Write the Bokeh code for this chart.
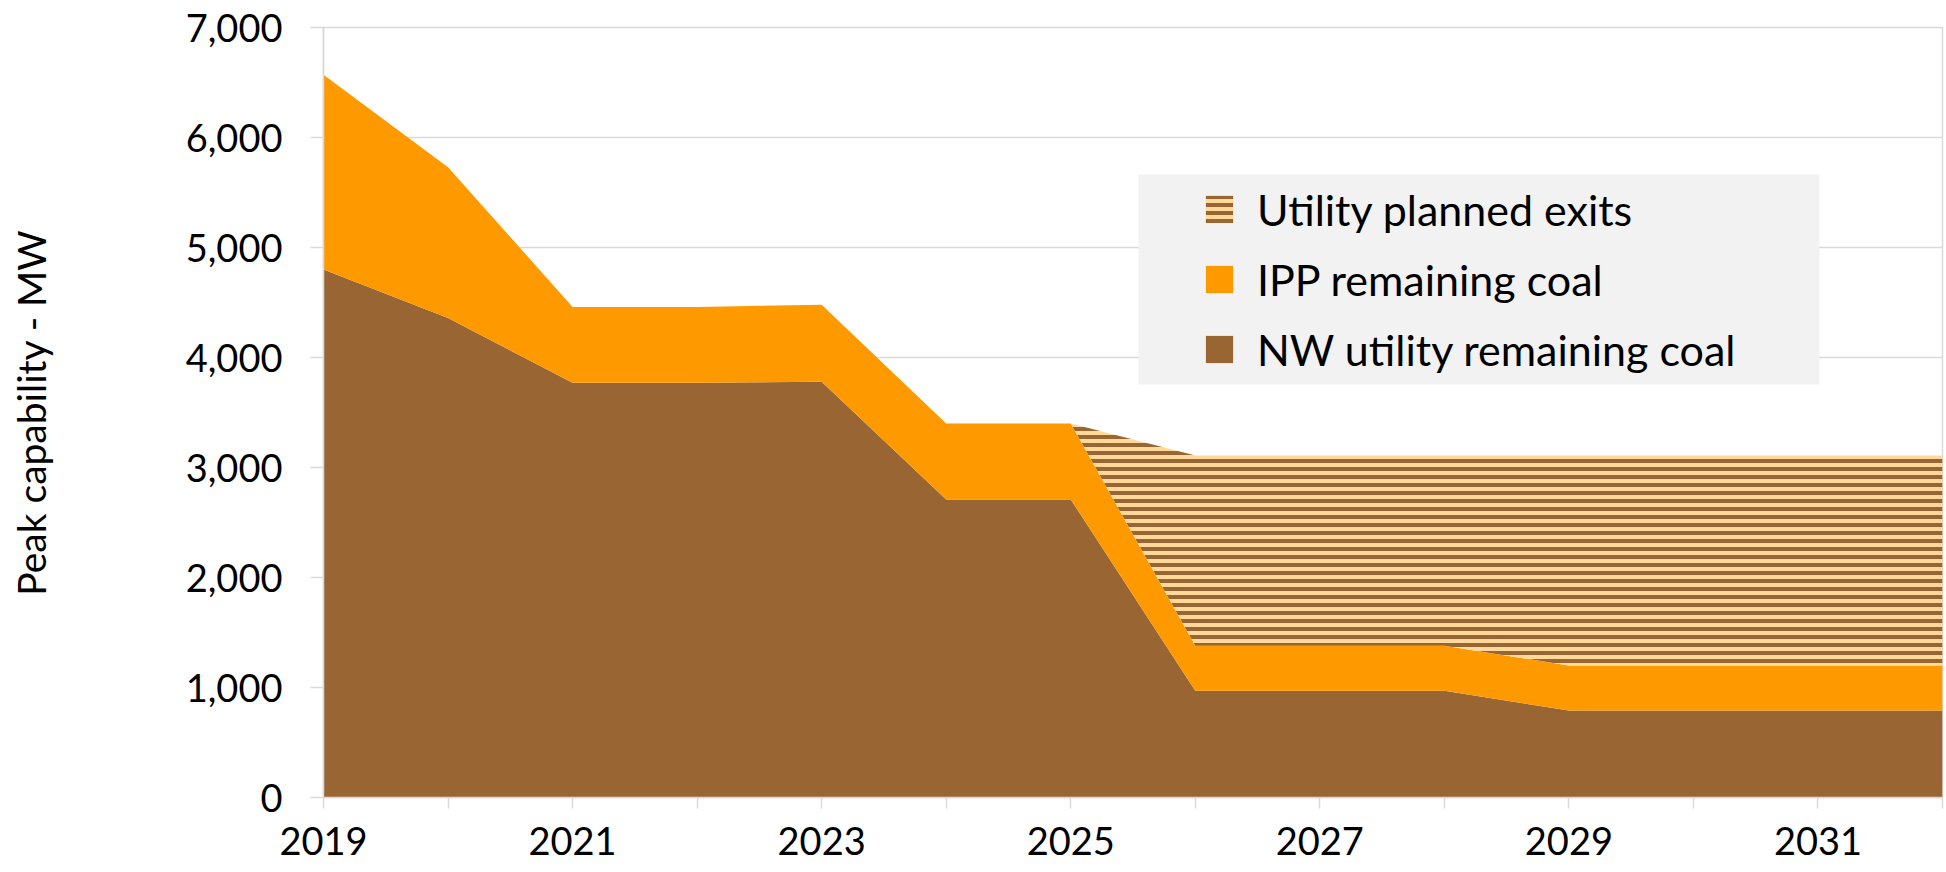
import numpy as np
from bokeh.plotting import figure
from bokeh.models import (Range1d, FixedTicker, NumeralTickFormatter, Legend,
                          LegendItem, BoxAnnotation)
from bokeh.embed import file_html
from bokeh.resources import INLINE

# ---- data ----
years = [2019, 2020, 2021, 2022, 2023, 2024, 2025, 2026, 2027, 2028, 2029, 2030, 2031, 2032]
nw_utility = [4800, 4360, 3770, 3770, 3780, 2710, 2710, 970, 970, 970, 790, 790, 790, 790]
ipp_remaining = [1770, 1370, 690, 690, 700, 690, 690, 410, 410, 410, 410, 410, 410, 410]
utility_exits = [0, 0, 0, 0, 0, 0, 0, 1730, 1730, 1730, 1910, 1910, 1910, 1910]
series_names = ["NW utility remaining coal", "IPP remaining coal", "Utility planned exits"]
x_tick_years = years
x_label_years = [2019, 2021, 2023, 2025, 2027, 2029, 2031]
y_ticks = [0, 1000, 2000, 3000, 4000, 5000, 6000, 7000]

FONT = "Lato"
BROWN = "#996633"
ORANGE = "#FF9900"
PEACH = "#FFD89C"
GRID = "#D9D9D9"

p = figure(width=1944, height=872, output_backend="svg", toolbar_location=None,
           x_range=Range1d(years[0], years[-1]), y_range=Range1d(0, 7000),
           min_border_left=323, min_border_right=2, min_border_top=27,
           min_border_bottom=75)
p.outline_line_color = GRID
p.outline_line_width = 1.5
p.background_fill_color = "white"

nw = np.array(nw_utility, dtype=float)
ipp = np.array(ipp_remaining, dtype=float)
ex = np.array(utility_exits, dtype=float)
base0 = np.zeros_like(nw)
top1 = nw
top2 = nw + ipp
top3 = nw + ipp + ex

r_nw = p.varea(x=years, y1=base0, y2=top1, fill_color=BROWN)
r_ipp = p.varea(x=years, y1=top1, y2=top2, fill_color=ORANGE)
r_ex = p.varea(x=years, y1=top2, y2=top3, fill_color=PEACH,
               hatch_pattern="horizontal_line", hatch_color=BROWN,
               hatch_scale=8, hatch_weight=4)

# axes
p.xaxis.ticker = FixedTicker(ticks=x_tick_years)
p.xaxis.major_label_overrides = {y: (str(y) if y in x_label_years else "") for y in x_tick_years}
p.xaxis.minor_tick_line_color = None
p.xaxis.major_tick_in = 0
p.xaxis.major_tick_out = 11
p.xaxis.major_tick_line_color = GRID
p.xaxis.major_tick_line_width = 1.5
p.xaxis.axis_line_color = GRID
p.xaxis.axis_line_width = 1.5
p.xaxis.major_label_standoff = 18
p.xaxis.major_label_text_font = FONT
p.xaxis.major_label_text_font_size = "38px"
p.xaxis.major_label_text_color = "black"

p.yaxis.ticker = FixedTicker(ticks=y_ticks)
p.yaxis.formatter = NumeralTickFormatter(format="0,0")
p.yaxis.minor_tick_line_color = None
p.yaxis.major_tick_in = 0
p.yaxis.major_tick_out = 13
p.yaxis.major_tick_line_color = GRID
p.yaxis.major_tick_line_width = 1.5
p.yaxis.axis_line_color = GRID
p.yaxis.axis_line_width = 1.5
p.yaxis.major_label_standoff = 28
p.yaxis.major_label_text_font = FONT
p.yaxis.major_label_text_font_size = "38px"
p.yaxis.major_label_text_color = "black"
p.yaxis.axis_label = "Peak capability - MW"
p.yaxis.axis_label_text_font = FONT
p.yaxis.axis_label_text_font_size = "39px"
p.yaxis.axis_label_text_font_style = "normal"
p.yaxis.axis_label_text_color = "black"
p.yaxis.axis_label_standoff = 129

p.xgrid.grid_line_color = None
p.ygrid.ticker = FixedTicker(ticks=y_ticks)
p.ygrid.grid_line_color = GRID
p.ygrid.grid_line_width = 1.5

# legend background box (screen units relative to the frame)
box = BoxAnnotation(left=815, right=1496, bottom=413, top=623,
                    left_units="screen", right_units="screen",
                    bottom_units="screen", top_units="screen",
                    fill_color="#F2F2F2", fill_alpha=1.0, line_color=None)
p.add_layout(box)

legend = Legend(items=[LegendItem(label=series_names[2], renderers=[r_ex]),
                       LegendItem(label=series_names[1], renderers=[r_ipp]),
                       LegendItem(label=series_names[0], renderers=[r_nw])],
                location=(879, 413), orientation="vertical")
legend.padding = 0
legend.margin = 0
legend.spacing = 0
legend.glyph_width = 34
legend.glyph_height = 34
legend.label_height = 70
legend.label_standoff = 21
legend.label_text_font = FONT
legend.label_text_font_size = "43px"
legend.label_text_color = "black"
legend.background_fill_alpha = 0
legend.border_line_color = None
p.add_layout(legend, "center")

open("out.html", "w").write(file_html(p, INLINE))
